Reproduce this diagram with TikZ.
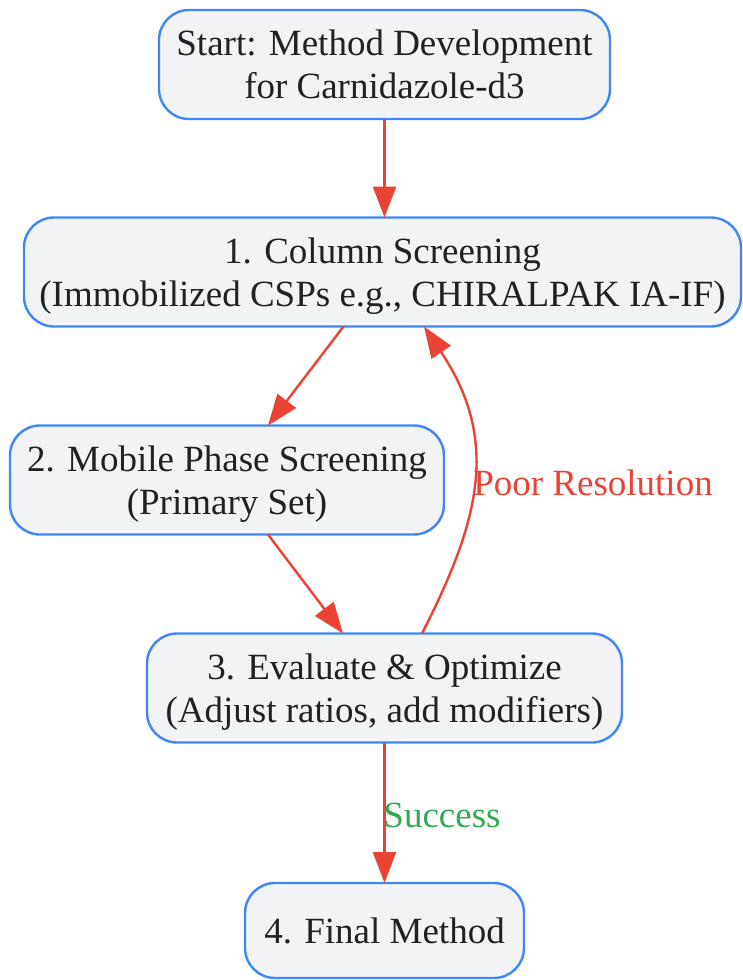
\documentclass[tikz,border=0pt]{standalone}
\usepackage{fontspec}
\setmainfont{Liberation Serif}
\usetikzlibrary{arrows.meta}
\definecolor{boxblue}{HTML}{4285F4}
\definecolor{boxfill}{HTML}{F1F3F4}
\definecolor{flowred}{HTML}{EA4335}
\definecolor{okgreen}{HTML}{34A853}
\definecolor{inktext}{HTML}{202124}

\begin{document}
\begin{tikzpicture}[x=1pt, y=-1pt,
		stage/.style={draw=boxblue, fill=boxfill, line width=2.4pt, rounded corners=30pt, align=center, inner sep=0pt, outer sep=0pt, text=inktext, text depth=0pt, font=\fontsize{37}{43}\selectfont, minimum height=109pt},
		flow/.style={draw=flowred, line width=2.4pt, -{Triangle[length=31pt,width=23pt]}},
		tag/.style={font=\fontsize{37}{43}\selectfont, inner sep=0pt}]
		\useasboundingbox (0,0) rectangle (742,980);
		
		\node[stage, minimum width=451pt] (start) at (384.5,64.5) {Start: Method Development\\for Carnidazole-d3};
		\node[stage, minimum width=717pt] (col) at (382.5,272) {1. Column Screening\\(Immobilized CSPs e.g., CHIRALPAK IA-IF)};
		\node[stage, minimum width=434pt] (mob) at (227,480) {2. Mobile Phase Screening\\(Primary Set)};
		\node[stage, minimum width=475pt] (eval) at (384.5,688) {3. Evaluate \& Optimize\\(Adjust ratios, add modifiers)};
		\node[stage, minimum width=279pt, minimum height=95pt] (final) at (384.5,930.5) {4. Final Method};
		
		\draw[flow] (start.south) -- (start.south |- col.north);
		\draw[flow] ([xshift=-39pt]col.south) -- ([xshift=41pt]mob.north);
		\draw[flow] ([xshift=41pt]mob.south) -- ([xshift=-41.5pt]eval.north);
		\draw[flow] ([xshift=37.5pt]eval.north) .. controls (480,520) and (500,440) .. ([xshift=41.5pt]col.south);
		\draw[flow] (eval) -- (final);
		
		\node[tag, text=flowred] (poor) at (593,483) {Poor Resolution};
		\node[tag, text=okgreen] (success) at (442,815) {Success};
	\end{tikzpicture}
\end{document}
